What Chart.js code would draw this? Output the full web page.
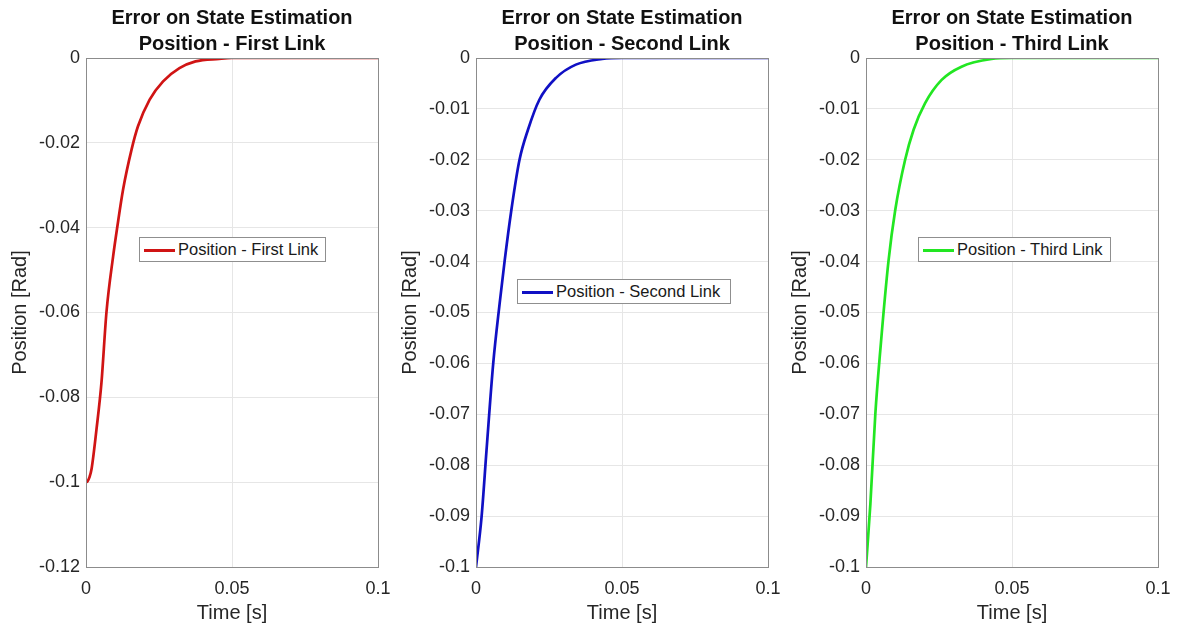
<!DOCTYPE html>
<html>
<head>
<meta charset="utf-8">
<script src="https://cdn.jsdelivr.net/npm/chart.js@4.4.1/dist/chart.umd.min.js"></script>
<style>
  body { margin:0; background:#fff; width:1181px; height:627px; overflow:hidden; position:relative; font-family:"Liberation Sans", Arial, sans-serif; }
  .pane { position:absolute; top:0; width:392px; height:627px; }
  .leg { position:absolute; background:#fff; border:1px solid #8f8f8f; box-sizing:border-box; height:25px;
         font-family:"Liberation Sans", Arial, sans-serif; font-size:16.5px; color:#1a1a1a; white-space:nowrap; }
  .leg i { position:absolute; left:4px; top:11px; width:31px; height:3px; }
  .leg span { position:absolute; left:38px; top:2px; }
</style>
</head>
<body>
<div class="pane" style="left:0px"><canvas id="c1"></canvas></div>
<div class="pane" style="left:390px"><canvas id="c2"></canvas></div>
<div class="pane" style="left:780px"><canvas id="c3"></canvas></div>
<script>
// time axis ticks
var timeTicks = [0, 0.05, 0.1];

// first link
var time1 = [0, 0.0005, 0.0012, 0.0019, 0.0036, 0.0053, 0.0070, 0.0093, 0.0107, 0.0127, 0.0156, 0.0178, 0.0218, 0.0264, 0.032, 0.0375, 0.0456, 0.05, 0.06, 0.08, 0.1];
var pos1  = [-0.1, -0.0998, -0.0988, -0.0969, -0.0875, -0.0765, -0.060, -0.0467, -0.0399, -0.031, -0.0216, -0.0161, -0.0098, -0.0055, -0.0024, -0.0008, -0.0002, 0, 0, 0, 0];

// second link
var time2 = [0, 0.0019, 0.0036, 0.0059, 0.0081, 0.0098, 0.0121, 0.0149, 0.0178, 0.0217, 0.0274, 0.0342, 0.0432, 0.05, 0.07, 0.1];
var pos2  = [-0.1, -0.0902, -0.0771, -0.060, -0.0482, -0.0399, -0.0299, -0.0200, -0.0141, -0.0082, -0.0039, -0.0013, -0.0002, 0, 0, 0];

// third link
var time3 = [0, 0.0015, 0.0032, 0.0049, 0.0077, 0.0100, 0.0134, 0.0163, 0.0202, 0.0259, 0.0327, 0.043, 0.05, 0.07, 0.1];
var pos3  = [-0.1, -0.0876, -0.0699, -0.0574, -0.0399, -0.0299, -0.0200, -0.0141, -0.0089, -0.0043, -0.0017, -0.0002, 0, 0, 0];

var titles = ["Position - First Link", "Position - Second Link", "Position - Third Link"];
var colors = ["#d01414", "#1010c4", "#22e622"];

const font = '"Liberation Sans", Arial, sans-serif';

// box round the plot area, like matlab "box on"
const boxPlugin = {
  id: 'box',
  afterDraw(chart) {
    const a = chart.chartArea, ctx = chart.ctx;
    ctx.save();
    ctx.strokeStyle = '#8c8c8c';
    ctx.lineWidth = 1;
    ctx.strokeRect(Math.round(a.left) + 0.5, Math.round(a.top) + 0.5, Math.round(a.right - a.left), Math.round(a.bottom - a.top));
    ctx.restore();
  }
};

function makeChart(id, t, y, label, color, ymin, ystep, leg) {
  var pts = t.map(function (v, i) { return {x: v, y: y[i]}; });
  const cv = document.getElementById(id);
  cv.width = 392; cv.height = 627;
  new Chart(cv, {
    type: 'line',
    data: { datasets: [{ label: label, data: pts, borderColor: color, borderWidth: 2.7,
                         pointRadius: 0, cubicInterpolationMode: 'monotone', fill: false }] },
    options: {
      responsive: false, animation: false,
      layout: { padding: { left: 0, right: 14, top: 0, bottom: 0 } },
      plugins: {
        legend: { display: false },
        tooltip: { enabled: false },
        title: { display: true, fullSize: false, text: ['Error on State Estimation', label], color: '#111',
                 font: { family: font, size: 20, weight: 'bold', lineHeight: 1.3 },
                 padding: { top: 5, bottom: 1 } }
      },
      scales: {
        x: {
          type: 'linear', min: 0, max: 0.1,
          afterBuildTicks: function (s) { s.ticks = timeTicks.map(function (v) { return {value: v}; }); },
          afterFit: function (s) { s.height = 60; s.paddingRight = 0; s.paddingLeft = 0; },
          grid: { color: '#e6e6e6', drawTicks: false },
          border: { color: '#8c8c8c' },
          ticks: { color: '#262626', font: { family: font, size: 18 }, padding: 11, maxRotation: 0,
                   callback: function (v) { return String(+v.toFixed(4)); } },
          title: { display: true, text: 'Time [s]', color: '#262626', font: { family: font, size: 20 },
                   padding: { top: 0, bottom: 2 } }
        },
        y: {
          min: ymin, max: 0,
          afterFit: function (s) { s.width = 86; },
          grid: { color: '#e6e6e6', drawTicks: false },
          border: { color: '#8c8c8c' },
          ticks: { stepSize: ystep, color: '#262626', font: { family: font, size: 18 }, padding: 6,
                   callback: function (v) { return String(+v.toFixed(4)); } },
          title: { display: true, text: 'Position [Rad]', color: '#262626', font: { family: font, size: 20 },
                   padding: { top: 8, bottom: 0 } }
        }
      }
    },
    plugins: [boxPlugin]
  });

  // legend box inside the axes
  const d = document.createElement('div');
  d.className = 'leg';
  d.style.left = leg[0] + 'px'; d.style.top = leg[1] + 'px'; d.style.width = leg[2] + 'px';
  d.innerHTML = '<i style="background:' + color + '"></i><span>' + label + '</span>';
  cv.parentNode.append(d);
}

makeChart('c1', time1, pos1, titles[0], colors[0], -0.12, 0.02, [139, 237, 187]);
makeChart('c2', time2, pos2, titles[1], colors[1], -0.1, 0.01, [127, 279, 214]);
makeChart('c3', time3, pos3, titles[2], colors[2], -0.1, 0.01, [138, 237, 193]);
</script>
</body>
</html>
